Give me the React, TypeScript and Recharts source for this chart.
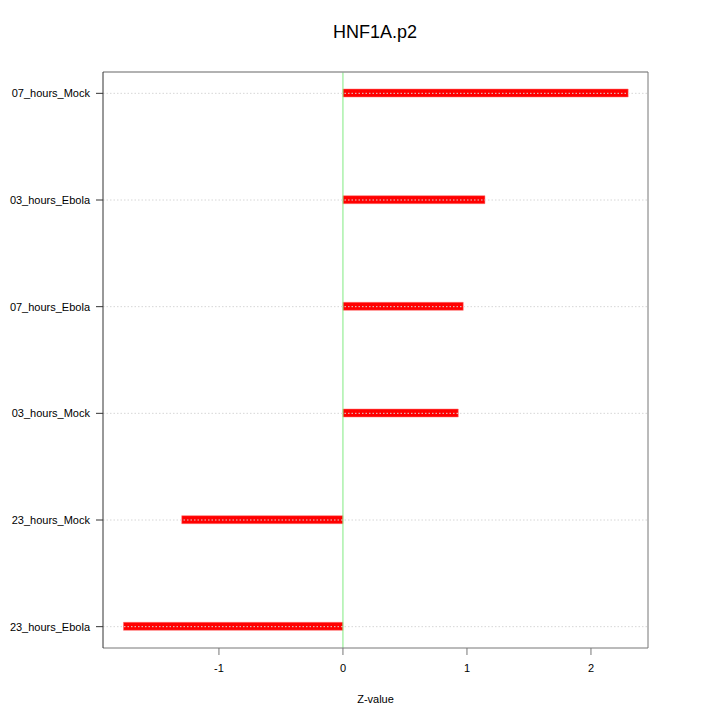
import { ComposedChart, Bar, XAxis, YAxis, ReferenceLine } from 'recharts';

// top to bottom
const labels = ['07_hours_Mock', '03_hours_Ebola', '07_hours_Ebola', '03_hours_Mock', '23_hours_Mock', '23_hours_Ebola'];
const zValues = [2.3, 1.145, 0.97, 0.93, -1.3, -1.77];
const xTicks = [-1, 0, 1, 2];
const yTicks = [1, 2, 3, 4, 5, 6];

const data = labels.map((name, i) => ({ name, pos: i + 1, z: zValues[i] }));

const font = 'Liberation Sans, Arial, Helvetica, sans-serif';
const xDomain: [number, number] = [-1.935, 2.46];
const yDomain: [number, number] = [0.8, 6.2];

const App = () => {
  return (
    <div style={{ position: 'absolute', left: 0, top: 0, width: 720, height: 720, background: 'white', fontFamily: font }}>
      <div style={{ position: 'absolute', top: 22, width: 750, textAlign: 'center', fontSize: 18, color: '#000' }}>
        HNF1A.p2
      </div>
      <ComposedChart
        width={720}
        height={720}
        layout="vertical"
        data={data}
        margin={{ top: 72, right: 72, left: 8, bottom: 22 }}
      >
        <XAxis
          type="number"
          domain={xDomain}
          ticks={xTicks}
          allowDataOverflow
          height={50}
          tick={{ fontSize: 11, fill: '#000', fontFamily: font, dy: 7 }}
          tickSize={7}
          stroke="#777"
          label={{ value: 'Z-value', position: 'insideBottom', offset: -5, fontSize: 11, fill: '#000', fontFamily: font }}
        />
        <YAxis
          type="number"
          dataKey="pos"
          domain={yDomain}
          ticks={yTicks}
          allowDataOverflow
          width={95}
          tickFormatter={(v: number) => labels[v - 1]}
          tick={{ fontSize: 11, fill: '#000', fontFamily: font, dx: -4 }}
          tickSize={7}
          stroke="#333"
        />
        <ReferenceLine x={0} stroke="#80ea80" strokeWidth={1} />
        <Bar dataKey="z" fill="#ff0000" stroke="#ff7070" strokeWidth={0.5} barSize={8} isAnimationActive={false} />
        {yTicks.map((t) => (
          <ReferenceLine key={t} y={t} stroke="#d6d6d6" strokeDasharray="1.5 2" />
        ))}
        <ReferenceLine y={yDomain[0]} stroke="#999" strokeWidth={1.5} />
        <ReferenceLine x={xDomain[1]} stroke="#777" strokeWidth={1} />
      </ComposedChart>
    </div>
  );
};

export default App;
